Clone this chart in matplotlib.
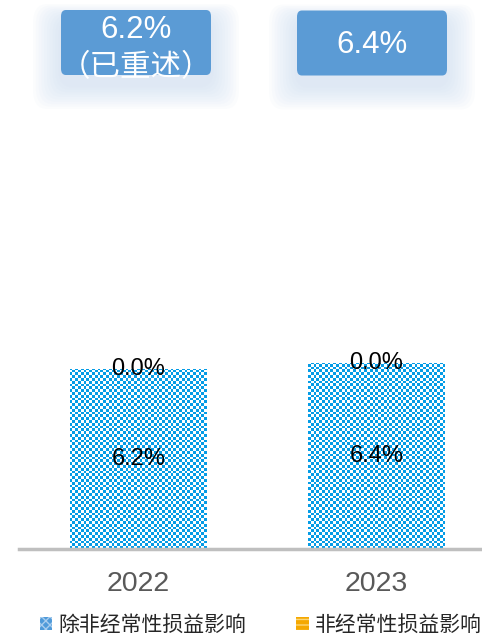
import numpy as np
import matplotlib
matplotlib.use('Agg')
import matplotlib.pyplot as plt
from matplotlib.patches import FancyBboxPatch, Patch
from matplotlib.colors import ListedColormap

plt.rcParams['font.family'] = ['Liberation Sans', 'Noto Sans CJK SC', 'DejaVu Sans']
plt.rcParams['hatch.linewidth'] = 1.0

# datos
anios = ['2022', '2023']
recurrente = [6.2, 6.4]
no_recurrente = [0.0, 0.0]
etiquetas_caja = [('6.2%', '（已重述）'), ('6.4%', None)]
series = ['除非经常性损益影响', '非经常性损益影响']

fig = plt.figure(figsize=(4.82, 6.37), dpi=100)
W, H = 482.0, 637.0
ax = fig.add_axes([19 / W, 88 / H, 463 / W, 406 / H])

x = np.arange(len(anios))
ancho = 137 / 238
azul = '#059ce6'
naranja = '#f5a800'

ax.set_ylim(0, 14)
ax.set_xlim(-0.502, -0.502 + 463 / 238)

barras = ax.bar(x, recurrente, width=ancho, color=azul, linewidth=0, zorder=2)
ax.bar(x, no_recurrente, bottom=recurrente, width=ancho, color=naranja, linewidth=0, zorder=2)

# textura de cuadritos recortada a cada barra
tablero = (np.add.outer(np.arange(145), np.arange(165)) % 2).astype(float)
cmap_tab = ListedColormap([azul, 'white'])
for b in barras:
    im = ax.imshow(tablero, cmap=cmap_tab, extent=(*ax.get_xlim(), *ax.get_ylim()),
                   interpolation='nearest', interpolation_stage='rgba', aspect='auto',
                   origin='lower', zorder=2.5)
    im.set_clip_path(b)
ax.set_ylim(0, 14)
ax.set_xlim(-0.502, -0.502 + 463 / 238)

for i in range(len(anios)):
    ax.text(x[i], recurrente[i] / 2, f'{recurrente[i]:.1f}%', ha='center', va='center',
            fontsize=17, color='black', zorder=4)
    tope = recurrente[i] + no_recurrente[i]
    ax.text(x[i], tope, f'{no_recurrente[i]:.1f}%', ha='center', va='center',
            fontsize=17, color='black', zorder=4)

ax.set_xticks(x)
ax.set_xticklabels(anios, fontsize=20.5, color='#595959')
ax.tick_params(axis='x', length=0, pad=16)
ax.set_yticks([])
for s in ['top', 'left', 'right']:
    ax.spines[s].set_visible(False)
ax.spines['bottom'].set_color('#bfbfbf')
ax.spines['bottom'].set_linewidth(2.5)
ax.spines['bottom'].set_zorder(3)

# cajas superiores con sombra
centros_caja = [(136, 42.5), (372, 43)]
bw, bh = 150, 65
for (cx, cy), (txt1, txt2) in zip(centros_caja, etiquetas_caja):
    for k in range(10, 0, -1):
        ext = k * 4
        sombra = FancyBboxPatch(((cx - bw / 2 - ext * 0.7) / W, 1 - (cy + bh / 2 + 10 + ext * 0.6) / H),
                                (bw + ext * 1.4) / W, (bh + ext * 1.0) / H,
                                boxstyle='round,pad=0,rounding_size=0.03',
                                transform=fig.transFigure, facecolor='#c8dbef', edgecolor='none',
                                alpha=0.07, zorder=1)
        fig.patches.append(sombra)
    caja = FancyBboxPatch(((cx - bw / 2) / W, 1 - (cy + bh / 2) / H), bw / W, bh / H,
                          boxstyle='round,pad=0,rounding_size=0.01',
                          transform=fig.transFigure, facecolor='#5b9bd5', edgecolor='none', zorder=2)
    fig.patches.append(caja)
    if txt2 is None:
        fig.text(cx / W, 1 - (cy + 2) / H, txt1, ha='center', va='center', fontsize=22.5,
                 color='white', zorder=3)
    else:
        fig.text(cx / W, 1 - 30 / H, txt1, ha='center', va='center', fontsize=22.5,
                 color='white', zorder=3)
        fig.text(cx / W, 1 - 68 / H, txt2, ha='center', va='center', fontsize=22,
                 color='white', zorder=3, family=['Noto Sans CJK SC', 'DejaVu Sans'])

# leyenda
manejadores = [Patch(facecolor='#4f9ad9', edgecolor='#a9cdee', hatch='xxxx', linewidth=0, label=series[0]),
               Patch(facecolor=naranja, edgecolor='#fbd77a', hatch='---', linewidth=0, label=series[1])]
fig.legend(handles=manejadores, loc='center left', bbox_to_anchor=(21 / W, 1 - 625 / H),
           ncol=2, frameon=False, fontsize=15, handlelength=0.6, handleheight=0.6,
           handletextpad=0.3, columnspacing=2.4, labelcolor='#262626')

fig.savefig('out.png', dpi=100)
